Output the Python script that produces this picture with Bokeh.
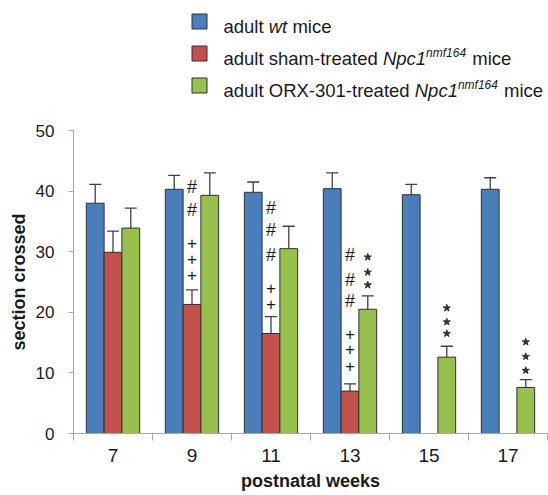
from bokeh.plotting import figure
from bokeh.models import (ColumnDataSource, Range1d, FixedTicker, Whisker, TeeHead)
from bokeh.layouts import column
from bokeh.core.properties import value
from bokeh.embed import file_html
from bokeh.resources import INLINE

# ---------------- data ----------------
weeks = ["7", "9", "11", "13", "15", "17"]
wt_mean = [38.0, 40.3, 39.8, 40.4, 39.4, 40.3]
wt_err = [3.1, 2.3, 1.7, 2.6, 1.7, 1.9]
sham_weeks = ["7", "9", "11", "13"]
sham_mean = [29.9, 21.3, 16.5, 7.0]
sham_err = [3.5, 2.4, 2.8, 1.2]
orx_mean = [33.9, 39.3, 30.5, 20.5, 12.6, 7.6]
orx_err = [3.3, 3.7, 3.7, 2.2, 1.8, 1.3]

hash_weeks = ["9", "9", "11", "11", "11", "13", "13", "13"]
hash_levels = [40.6, 36.9, 37.2, 33.6, 29.4, 29.4, 25.4, 21.9]
plus_weeks = ["9", "9", "9", "11", "11", "13", "13", "13"]
plus_levels = [31.4, 28.8, 26.2, 24.0, 21.4, 16.5, 13.9, 11.1]
star_weeks = ["13", "13", "13", "15", "15", "15", "17", "17", "17"]
star_levels = [29.1, 26.6, 24.5, 20.7, 18.4, 16.5, 15.1, 12.7, 10.4]

y_ticks = [0, 10, 20, 30, 40, 50]

# ---------------- style ----------------
FONT = "Liberation Sans"
C_WT = "#4A7EBB"
C_SHAM = "#C4504D"
C_ORX = "#98C04F"
EDGE = "#303030"
AXIS = "#A6A6A6"
TXT = "#1a1a1a"
BW = 0.225
W = 548
LEFT = 73
RIGHT_PAD = 1
LH = 118          # legend strip height
MH = 377          # main chart height

def pos(wk, off=0.0):
    return weeks.index(wk) + 0.5 + off

# ---------------- main chart ----------------
p = figure(width=W, height=MH, output_backend="svg", toolbar_location=None,
           x_range=Range1d(0, 6), y_range=Range1d(0, 50),
           min_border_left=LEFT, min_border_right=RIGHT_PAD, min_border_top=12,
           min_border_bottom=62)
p.outline_line_color = None
p.xgrid.visible = False
p.ygrid.visible = False

series = [
    (weeks, wt_mean, wt_err, -BW, C_WT),
    (sham_weeks, sham_mean, sham_err, 0.0, C_SHAM),
    (weeks, orx_mean, orx_err, BW, C_ORX),
]
for wks, mean, err, off, col in series:
    src = ColumnDataSource(dict(
        x=[pos(w, off) for w in wks],
        top=mean,
        upper=[m + e for m, e in zip(mean, err)],
    ))
    p.vbar(x="x", top="top", bottom=0, width=BW, source=src,
           fill_color=col, line_color=EDGE, line_width=1)
    wh = Whisker(source=src, base="x", lower="top", upper="upper",
                 line_color="#404040", line_width=1.3,
                 upper_head=TeeHead(size=12, line_color="#404040", line_width=1.3),
                 lower_head=None)
    p.add_layout(wh)

p.text(x=[pos(w) for w in hash_weeks], y=hash_levels, text=["#"] * len(hash_levels),
       text_font=value(FONT), text_font_size="18px", text_align="center",
       text_baseline="middle", text_color=TXT)
p.text(x=[pos(w) for w in plus_weeks], y=plus_levels, text=["+"] * len(plus_levels),
       text_font=value(FONT), text_font_size="17px", text_align="center",
       text_baseline="middle", text_color=TXT)
p.scatter(x=[pos(w, BW) for w in star_weeks], y=star_levels, marker="star",
          size=7.5, fill_color="#333333", line_color="#333333")

# y axis
ya = p.yaxis[0]
ya.ticker = FixedTicker(ticks=y_ticks)
ya.axis_line_color = AXIS
ya.major_tick_line_color = AXIS
ya.major_tick_in = 0
ya.major_tick_out = 5
ya.minor_tick_line_color = None
ya.major_label_standoff = 14
ya.major_label_text_font = FONT
ya.major_label_text_font_size = "17px"
ya.major_label_text_color = TXT
ya.axis_label = "section crossed"
ya.axis_label_text_font = FONT
ya.axis_label_text_font_size = "18px"
ya.axis_label_text_font_style = "bold"
ya.axis_label_text_color = TXT
ya.axis_label_standoff = 4

# x axis
xa = p.xaxis[0]
xa.ticker = FixedTicker(ticks=[i + 0.5 for i in range(len(weeks))],
                        minor_ticks=list(range(len(weeks) + 1)))
xa.major_label_overrides = {i + 0.5: w for i, w in enumerate(weeks)}
xa.axis_line_color = AXIS
xa.major_tick_line_color = None
xa.major_tick_in = 0
xa.major_tick_out = 0
xa.minor_tick_line_color = AXIS
xa.minor_tick_in = 0
xa.minor_tick_out = 7
xa.major_label_standoff = 8
xa.major_label_text_font = FONT
xa.major_label_text_font_size = "19px"
xa.major_label_text_color = TXT
xa.axis_label = "postnatal weeks"
xa.axis_label_text_font = FONT
xa.axis_label_text_font_size = "18px"
xa.axis_label_text_font_style = "bold"
xa.axis_label_text_color = TXT
xa.axis_label_standoff = 6

# ---------------- legend (drawn as rich text) ----------------
# frame of this strip is aligned with the main frame, so map it 1:1 to pixels
lg = figure(width=W, height=LH, output_backend="svg", toolbar_location=None,
            x_range=Range1d(LEFT, W - RIGHT_PAD), y_range=Range1d(LH, 0),
            x_axis_location=None, y_axis_location=None,
            min_border_left=LEFT, min_border_right=RIGHT_PAD,
            min_border_top=0, min_border_bottom=0)
lg.outline_line_color = None
lg.xgrid.visible = False
lg.ygrid.visible = False

ADV = {' ': 278, 'a': 556, 'd': 556, 'u': 556, 'l': 222, 't': 278, 'w': 722,
       'm': 833, 'i': 222, 'c': 500, 'e': 556, 's': 500, 'h': 556, '-': 333,
       'r': 333, 'O': 778, 'R': 722, 'X': 667, '3': 556, '0': 556, '1': 556,
       'N': 722, 'p': 556, 'n': 556, 'f': 278, '6': 556, '4': 556}

def twidth(s, size):
    return sum(ADV.get(ch, 556) for ch in s) * size / 1000.0

legend_rows = [
    (C_WT, [("adult ", "normal", False), ("wt", "italic", False), (" mice", "normal", False)]),
    (C_SHAM, [("adult sham-treated ", "normal", False), ("Npc1", "italic", False),
              ("nmf164", "italic", True), (" mice", "normal", False)]),
    (C_ORX, [("adult ORX-301-treated ", "normal", False), ("Npc1", "italic", False),
             ("nmf164", "italic", True), (" mice", "normal", False)]),
]
row_y = [21, 53, 85]
SQ_X = 199
TX0 = 223
FS = 18.5
SFS = 12
for (col, segs), yc in zip(legend_rows, row_y):
    lg.scatter(x=[SQ_X], y=[yc], marker="square", size=15,
               fill_color=col, line_color=EDGE, line_width=1)
    x = TX0
    base = yc + 5
    for s, style, sup in segs:
        size = SFS if sup else FS
        lead = len(s) - len(s.lstrip(" "))
        x_txt = x + twidth(" " * lead, size)
        st = s.strip(" ")
        lg.text(x=[x_txt], y=[base - 6 if sup else base], text=[st],
                text_font=value(FONT), text_font_size=f"{size}px",
                text_font_style=style, text_align="left",
                text_baseline="alphabetic", text_color=TXT)
        x += twidth(s, size) + (1 if sup else 0)

layout = column(lg, p)
open("out.html", "w").write(file_html(layout, INLINE))
